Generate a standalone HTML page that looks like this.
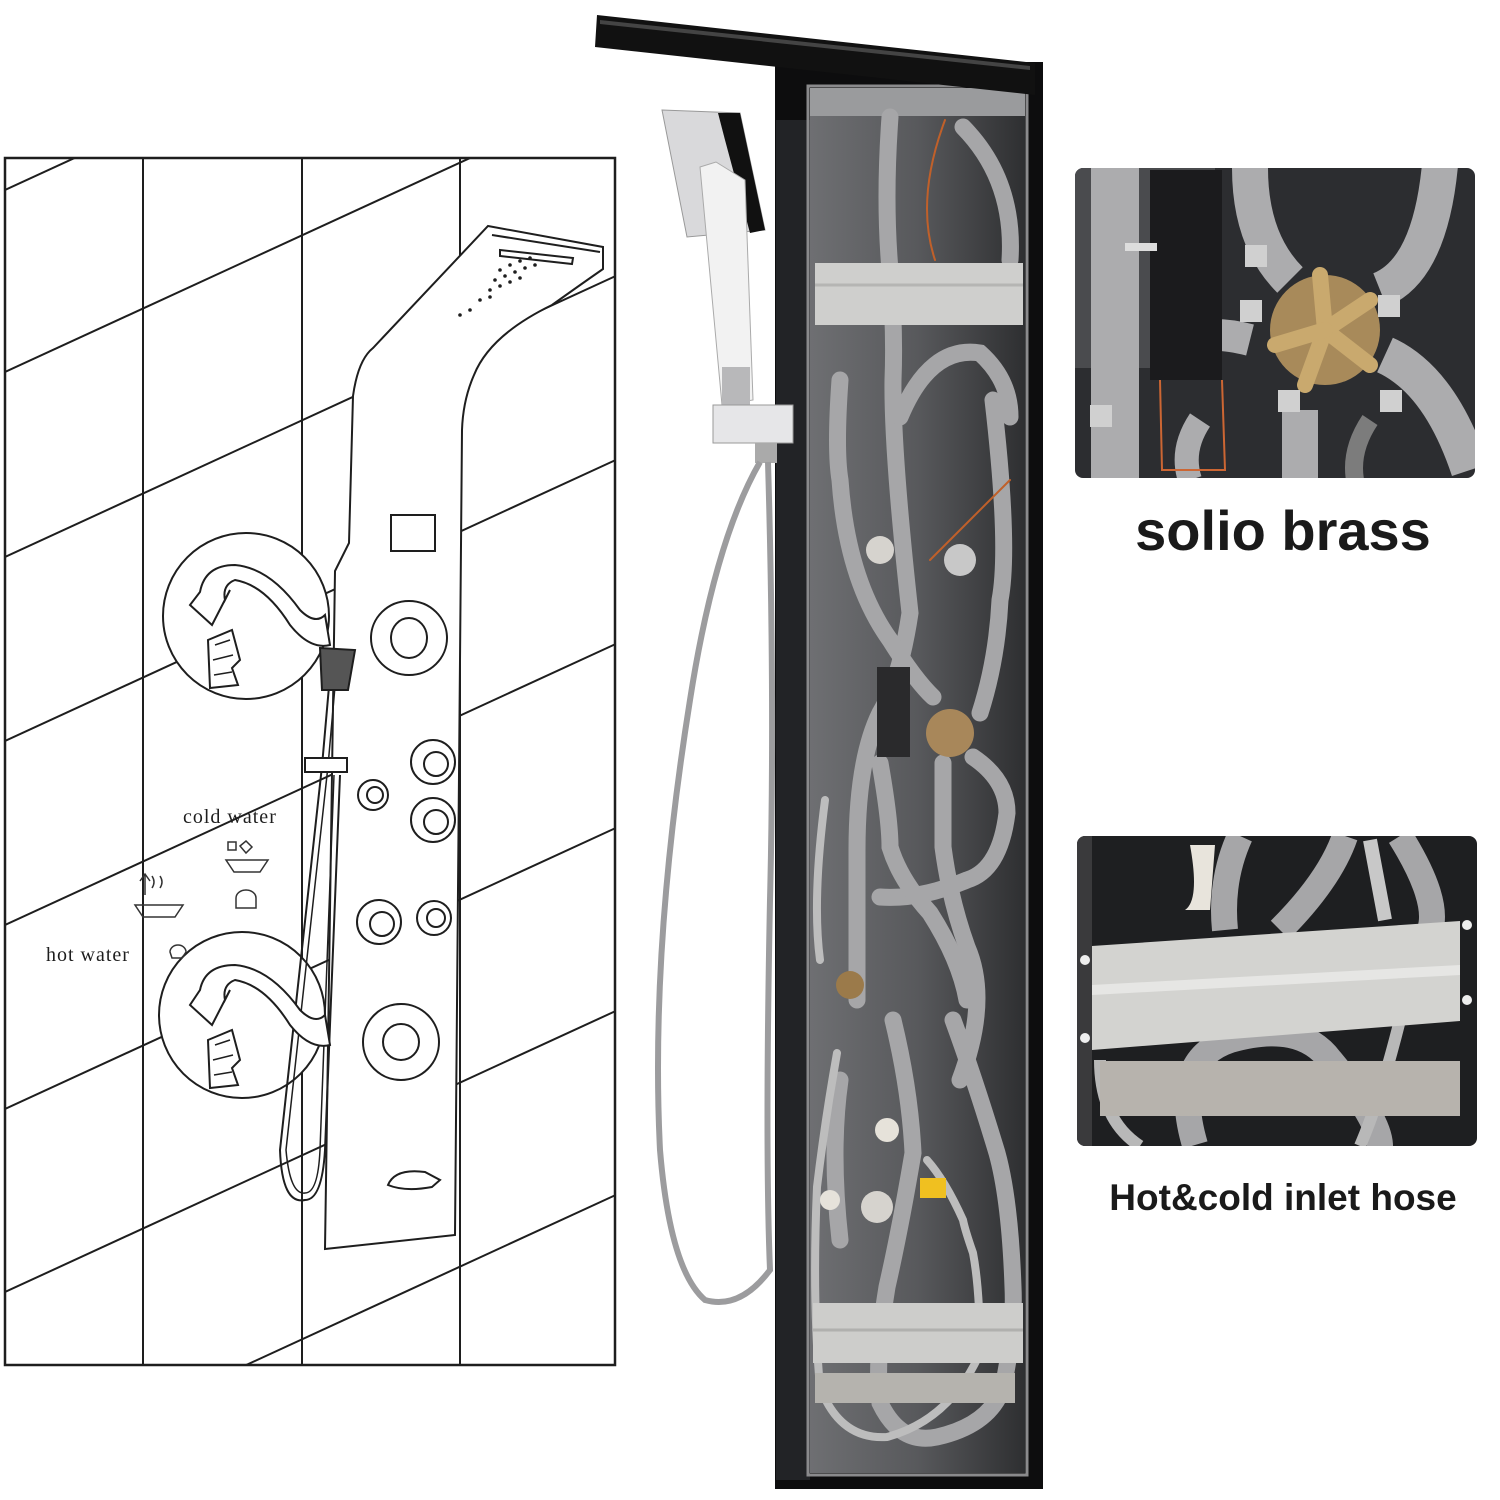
<!DOCTYPE html>
<html><head><meta charset="utf-8"><style>
html,body{margin:0;padding:0;background:#fff;width:1500px;height:1500px;overflow:hidden}
svg{display:block}
</style></head><body>
<svg width="1500" height="1500" viewBox="0 0 1500 1500" xmlns="http://www.w3.org/2000/svg">
<defs>
<clipPath id="lc"><rect x="5" y="158" width="610" height="1207"/></clipPath>
<clipPath id="p1"><rect x="1075" y="168" width="400" height="310" rx="8"/></clipPath>
<clipPath id="p2"><rect x="1077" y="836" width="400" height="310" rx="8"/></clipPath>
<clipPath id="pi"><rect x="810" y="88" width="215" height="1385"/></clipPath>
<linearGradient id="ig" x1="0" x2="1" y1="0" y2="0"><stop offset="0" stop-color="#6e6f72"/><stop offset="0.5" stop-color="#58595c"/><stop offset="1" stop-color="#2e2f31"/></linearGradient>
</defs>
<rect width="1500" height="1500" fill="#fff"/>
<!-- LEFT DRAWING -->
<g stroke="#1e1e1e" stroke-width="2" fill="none" clip-path="url(#lc)">
<line x1="143" y1="158" x2="143" y2="1365"/>
<line x1="302" y1="158" x2="302" y2="1365"/>
<line x1="460" y1="158" x2="460" y2="1365"/>
<line x1="5" y1="190" x2="620" y2="-93"/>
<line x1="5" y1="372" x2="620" y2="89"/>
<line x1="5" y1="557" x2="620" y2="274"/>
<line x1="5" y1="741" x2="620" y2="458"/>
<line x1="5" y1="925" x2="620" y2="642"/>
<line x1="5" y1="1109" x2="620" y2="826"/>
<line x1="5" y1="1292" x2="620" y2="1009"/>
<line x1="5" y1="1476" x2="620" y2="1193"/>
</g>
<rect x="5" y="158" width="610" height="1207" fill="none" stroke="#1e1e1e" stroke-width="2.5"/>
<g stroke="#1e1e1e" stroke-width="2" fill="#fff">
<circle cx="246" cy="616" r="83"/>
<circle cx="242" cy="1015" r="83"/>
<path d="M488 226 L603 247 L603 269 Q580 285 552 305 Q490 335 474 375 Q463 400 462 430 L455 1235 L325 1249 L335 571 L349 543 L353 396 Q358 360 373 348 Z"/>
<path d="M492 235 L600 252" fill="none"/>
<path d="M500 250 L573 258 L572 264 L500 256 Z" fill="none"/>
<rect x="391" y="515" width="44" height="36"/>
<ellipse cx="409" cy="638" rx="38" ry="37"/><ellipse cx="409" cy="638" rx="18" ry="20"/>
<circle cx="433" cy="762" r="22"/><circle cx="436" cy="764" r="12"/>
<circle cx="433" cy="820" r="22"/><circle cx="436" cy="822" r="12"/>
<circle cx="373" cy="795" r="15"/><circle cx="375" cy="795" r="8"/>
<circle cx="379" cy="922" r="22"/><circle cx="382" cy="924" r="12"/>
<circle cx="434" cy="918" r="17"/><circle cx="436" cy="918" r="9"/>
<circle cx="401" cy="1042" r="38"/><circle cx="401" cy="1042" r="18"/>
<path d="M388 1185 Q395 1168 425 1172 L440 1180 L432 1187 Q405 1192 388 1185 Z"/>
<path d="M330 675 L322 766 L280 1150 Q282 1205 305 1200 Q322 1200 325 1150 L340 775" fill="none" stroke-width="2"/>
<path d="M336 675 L328 766 L286 1150 Q290 1195 305 1193 Q318 1193 320 1150 L334 775" fill="none" stroke-width="1.5"/>
<path d="M320 648 L355 650 L348 690 L322 690 Z" fill="#555"/>
<rect x="305" y="758" width="42" height="14"/>
<path d="M200 592 Q205 565 235 565 Q270 568 300 610 Q315 625 325 615 L330 645 Q310 650 290 625 Q265 585 235 580 Q222 585 225 600 L230 590 L212 625 L190 605 Z" fill="#fff"/>
<path d="M208 640 L232 630 L240 660 L232 668 L238 685 L210 688 Z" fill="#fff" stroke-width="2"/>
<path d="M215 645 L230 640 M213 660 L233 655 M214 675 L232 672" stroke-width="1.5"/>
<path d="M200 990 Q205 965 235 965 Q270 968 300 1010 Q315 1025 325 1015 L330 1045 Q310 1050 290 1025 Q265 985 235 980 Q222 985 225 1000 L230 990 L212 1025 L190 1005 Z" fill="#fff"/>
<path d="M208 1040 L232 1030 L240 1060 L232 1068 L238 1085 L210 1088 Z" fill="#fff" stroke-width="2"/>
<path d="M215 1045 L230 1040 M213 1060 L233 1055 M214 1075 L232 1072" stroke-width="1.5"/>
</g>
<g fill="#1e1e1e">
<circle cx="500" cy="270" r="1.8"/><circle cx="510" cy="265" r="1.8"/><circle cx="520" cy="261" r="1.8"/><circle cx="530" cy="258" r="1.8"/><circle cx="495" cy="280" r="1.8"/><circle cx="505" cy="276" r="1.8"/><circle cx="515" cy="272" r="1.8"/><circle cx="525" cy="268" r="1.8"/><circle cx="535" cy="265" r="1.8"/><circle cx="490" cy="290" r="1.8"/><circle cx="500" cy="286" r="1.8"/><circle cx="510" cy="282" r="1.8"/><circle cx="520" cy="278" r="1.8"/><circle cx="480" cy="300" r="1.8"/><circle cx="490" cy="297" r="1.8"/><circle cx="470" cy="310" r="1.8"/><circle cx="460" cy="315" r="1.8"/>
</g>
<g fill="none" stroke="#333" stroke-width="1.5">
<path d="M228 842 l8 0 l0 8 l-8 0z M240 846 l6 -5 l6 6 l-6 6z"/>
<path d="M226 860 l42 0 l-8 12 l-26 0z"/>
<path d="M236 898 a10 8 0 1 1 20 0 l0 10 l-20 0z"/>
<path d="M145 875 l0 20 M140 881 l5 -7 l5 7 M152 888 q4 -6 0 -12 M160 888 q4 -6 0 -12"/>
<path d="M135 905 l48 0 l-8 12 l-32 0z"/>
<path d="M170 952 a8 7 0 1 1 16 0 l-4 6 l-10 0z"/>
</g>
<text x="183" y="823" font-family="Liberation Serif,serif" font-size="20" letter-spacing="1" fill="#1e1e1e">cold water</text>
<text x="46" y="961" font-family="Liberation Serif,serif" font-size="20" letter-spacing="1" fill="#1e1e1e">hot water</text>

<!-- CENTER PANEL -->
<rect x="775" y="62" width="268" height="1427" fill="#0d0d0e"/>
<rect x="776" y="120" width="34" height="1360" fill="#222326"/>
<rect x="810" y="88" width="215" height="1385" fill="url(#ig)"/>
<rect x="808" y="86" width="219" height="1389" fill="none" stroke="#8a8a8c" stroke-width="3"/>
<rect x="810" y="88" width="215" height="28" fill="#9a9b9d"/>
<polygon points="597,15 1035,63 1035,95 595,47" fill="#111"/>
<polygon points="600,20 1030,66 1030,70 600,24" fill="#444"/>
<g clip-path="url(#pi)" fill="none" stroke-linecap="round">
<g stroke="#a6a6a8" stroke-width="17">
<path d="M890 117 Q884 200 890 270 Q895 330 893 380 Q892 450 910 613 Q900 680 880 713 Q857 760 857 850 Q857 920 857 1000"/>
<path d="M963 127 Q1015 180 1010 260"/>
<path d="M900 417 Q930 345 980 353 Q1010 380 1010 417"/>
<path d="M840 380 Q835 450 840 480 Q847 580 890 640 Q915 680 933 697"/>
<path d="M993 400 Q1010 547 1000 600 Q997 660 980 713"/>
<path d="M943 763 Q943 820 943 847 Q950 900 967 947 Q990 1000 960 1080"/>
<path d="M973 757 Q1007 780 1007 813 Q1000 870 967 880 Q920 900 880 897"/>
<path d="M880 763 Q890 820 890 847 Q900 880 930 913 Q960 960 967 1000"/>
<path d="M893 1020 Q910 1090 913 1153 Q900 1230 887 1287 Q875 1360 880 1403 Q900 1445 937 1437 Q990 1425 1003 1387 Q1015 1330 1013 1287 Q1010 1200 997 1153 Q975 1080 953 1020"/>
<path d="M840 1080 Q830 1150 840 1240"/>
</g>
<g stroke="#bdbdbd" stroke-width="8">
<path d="M837 1053 Q825 1120 817 1187 Q812 1300 820 1387 Q840 1440 887 1437 Q950 1420 980 1353 Q980 1290 973 1253 Q965 1230 963 1220 Q945 1180 927 1160"/>
<path d="M825 800 Q812 900 820 960"/>
</g>
<path d="M945 120 Q915 200 935 260" stroke="#c0602a" stroke-width="2"/>
<path d="M1010 480 Q960 530 930 560" stroke="#c0602a" stroke-width="2"/>
</g>
<rect x="815" y="263" width="208" height="62" fill="#cfcfcd"/>
<line x1="815" y1="285" x2="1023" y2="285" stroke="#b5b5b3" stroke-width="3"/>
<circle cx="950" cy="733" r="24" fill="#a8875a"/>
<circle cx="850" cy="985" r="14" fill="#9b7a4a"/>
<rect x="877" y="667" width="33" height="90" fill="#2a2a2c"/>
<circle cx="887" cy="1130" r="12" fill="#e6e2da"/>
<circle cx="830" cy="1200" r="10" fill="#e6e2da"/>
<circle cx="877" cy="1207" r="16" fill="#d6d3ce"/>
<circle cx="880" cy="550" r="14" fill="#d6d3ce"/>
<circle cx="960" cy="560" r="16" fill="#c8c8c8"/>
<rect x="920" y="1178" width="26" height="20" fill="#f0c020"/>
<rect x="813" y="1303" width="210" height="60" fill="#cdcdcb"/>
<line x1="813" y1="1330" x2="1023" y2="1330" stroke="#b0b0ae" stroke-width="3"/>
<rect x="815" y="1373" width="200" height="30" fill="#b5b3ae"/>
<!-- hand shower -->
<polygon points="662,110 740,113 765,230 687,237" fill="#d9d9db" stroke="#999" stroke-width="1"/>
<polygon points="718,113 740,113 765,230 750,233 725,140" fill="#111"/>
<path d="M700 167 L716 162 L745 180 L753 400 L722 405 Z" fill="#f2f2f2" stroke="#aaa" stroke-width="1"/>
<rect x="722" y="367" width="28" height="40" fill="#b8b8ba"/>
<rect x="713" y="405" width="80" height="38" fill="#e6e6e8" stroke="#999" stroke-width="1"/>
<rect x="755" y="443" width="22" height="20" fill="#aaa"/>
<path d="M768 462 Q775 700 770 900 Q765 1150 770 1270 Q740 1310 705 1300 Q670 1270 660 1150 Q650 950 690 700 Q715 540 760 462" stroke="#9c9c9e" stroke-width="6" fill="none"/>

<!-- RIGHT PHOTO 1 -->
<g clip-path="url(#p1)">
<rect x="1075" y="168" width="400" height="310" fill="#2c2d30"/>
<rect x="1075" y="168" width="140" height="200" fill="#4a4b4e"/>
<g fill="none" stroke="#acacae" stroke-linecap="butt">
<path d="M1115 168 L1115 480" stroke-width="48"/>
<path d="M1250 168 Q1250 240 1290 280" stroke-width="36"/>
<path d="M1440 165 Q1430 270 1380 290" stroke-width="36"/>
<path d="M1385 355 Q1440 380 1470 470" stroke-width="38"/>
<path d="M1300 410 L1300 480" stroke-width="36"/>
<path d="M1190 340 Q1210 330 1250 340" stroke-width="32"/>
<path d="M1200 420 Q1180 450 1190 480" stroke-width="24"/>
</g>
<path d="M1370 420 Q1350 450 1355 480" stroke="#7c7c7c" stroke-width="18" fill="none"/>
<circle cx="1325" cy="330" r="55" fill="#a88a5a"/>
<g stroke="#c9a96e" stroke-width="16" stroke-linecap="round"><line x1="1325" y1="330" x2="1320" y2="275"/><line x1="1325" y1="330" x2="1370" y2="300"/><line x1="1325" y1="330" x2="1370" y2="365"/><line x1="1325" y1="330" x2="1305" y2="385"/><line x1="1325" y1="330" x2="1275" y2="345"/></g>
<rect x="1150" y="170" width="72" height="210" fill="#1b1b1d"/>
<rect x="1125" y="243" width="32" height="8" fill="#ddd"/>
<path d="M1160 380 L1162 470 L1225 470 L1222 380" stroke="#c63" stroke-width="2" fill="none"/>
<g fill="#d0d0d0"><rect x="1245" y="245" width="22" height="22"/><rect x="1378" y="295" width="22" height="22"/><rect x="1240" y="300" width="22" height="22"/><rect x="1380" y="390" width="22" height="22"/><rect x="1278" y="390" width="22" height="22"/><rect x="1090" y="405" width="22" height="22"/></g>
</g>
<text x="1283" y="550" text-anchor="middle" font-family="Liberation Sans,sans-serif" font-weight="bold" font-size="56" fill="#1a1a1a">solio brass</text>
<!-- RIGHT PHOTO 2 -->
<g clip-path="url(#p2)">
<rect x="1077" y="836" width="400" height="310" fill="#1e1f21"/>
<rect x="1077" y="836" width="15" height="310" fill="#3a3a3c"/>
<path d="M1190 845 Q1200 900 1185 910 L1210 910 L1215 845 Z" fill="#e8e4dc"/>
<g fill="none" stroke="#a6a6a8" stroke-width="26">
<path d="M1240 836 Q1220 880 1225 930"/>
<path d="M1345 836 Q1330 880 1280 930"/>
<path d="M1400 836 Q1440 900 1430 930"/>
<path d="M1195 1145 Q1170 1060 1230 1040 Q1300 1020 1330 1060 Q1380 1120 1380 1146"/>
</g>
<path d="M1370 840 L1385 920" stroke="#c8c8c8" stroke-width="14"/>
<path d="M1100 1060 Q1100 1120 1140 1146 M1400 1020 Q1380 1100 1360 1146" stroke="#b8b8b8" stroke-width="12" fill="none"/>
<rect x="1100" y="1061" width="360" height="55" fill="#b7b3ad"/>
<polygon points="1092,946 1460,921 1460,1021 1092,1050" fill="#d3d3d0"/>
<polygon points="1092,985 1460,965 1460,975 1092,995" fill="#e6e6e4"/>
<g fill="#eee"><circle cx="1085" cy="960" r="5"/><circle cx="1085" cy="1038" r="5"/><circle cx="1467" cy="925" r="5"/><circle cx="1467" cy="1000" r="5"/></g>
</g>
<text x="1283" y="1210" text-anchor="middle" font-family="Liberation Sans,sans-serif" font-weight="bold" font-size="37" fill="#1a1a1a">Hot&amp;cold inlet hose</text>
</svg>
</body></html>
